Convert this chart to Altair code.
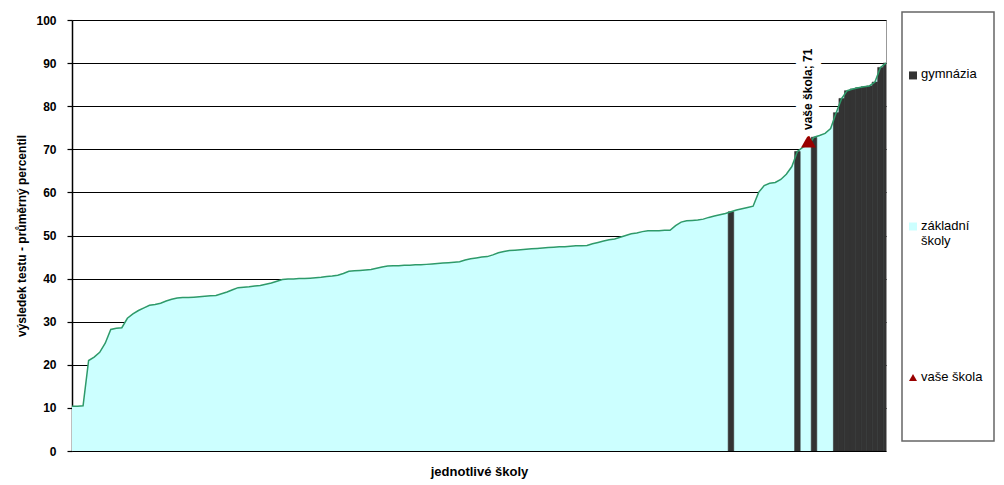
import altair as alt
import pandas as pd

# --- data ---
values = [
    10.4, 10.4, 10.5, 21.0, 21.8, 22.9, 25.0, 28.2, 28.5, 28.6,
    30.8, 31.8, 32.6, 33.2, 33.8, 34.0, 34.3, 34.8, 35.2, 35.5,
    35.6, 35.6, 35.7, 35.8, 35.9, 36.0, 36.1, 36.5, 36.9, 37.4,
    37.9, 38.0, 38.1, 38.3, 38.4, 38.7, 39.0, 39.4, 39.8, 39.9,
    39.9, 40.0, 40.0, 40.1, 40.2, 40.3, 40.5, 40.6, 40.8, 41.2,
    41.7, 41.8, 41.9, 42.0, 42.1, 42.4, 42.7, 42.9, 43.0, 43.0,
    43.1, 43.1, 43.2, 43.2, 43.3, 43.4, 43.5, 43.6, 43.7, 43.8,
    43.9, 44.3, 44.6, 44.8, 45.0, 45.1, 45.5, 46.0, 46.3, 46.5,
    46.6, 46.7, 46.8, 46.9, 47.0, 47.1, 47.2, 47.3, 47.4, 47.4,
    47.5, 47.6, 47.6, 47.7, 48.1, 48.4, 48.7, 49.0, 49.2, 49.6,
    50.0, 50.4, 50.6, 50.9, 51.1, 51.1, 51.1, 51.2, 51.2, 52.3,
    53.1, 53.4, 53.5, 53.6, 53.8, 54.2, 54.5, 54.8, 55.1, 55.5,
    55.9, 56.2, 56.5, 56.8, 60.0, 61.6, 62.1, 62.3, 63.0, 64.2,
    66.0, 69.5, 70.5, 71.0, 72.8, 73.2, 73.7, 74.8, 78.5, 81.8,
    83.6, 84.0, 84.3, 84.5, 84.7, 85.6, 89.0, 90.0,
]
gymnazia_idx = [119, 131, 134, 138, 139, 140, 141, 142, 143, 144, 145, 146, 147]
your_school_idx = 133

legend_labels = ["gymnázia", "základní\nškoly", "vaše škola"]
legend_colors = ["#333333", "#CCFFFF", "#990000"]
legend_shapes = ["square", "square", "triangle-up"]
legend_sizes = [64, 64, 110]

y_title = "výsledek testu - průměrný percentil"
x_title = "jednotlivé školy"
your_label = "vaše škola"

N = len(values)
df = pd.DataFrame({
    "i": list(range(N)),
    "v": values,
    "gym": [i in gymnazia_idx for i in range(N)],
    "you": [i == your_school_idx for i in range(N)],
})

FONT = "Liberation Sans"

x_axis = alt.Axis(labels=False, ticks=False, domain=False, grid=False,
                  title=x_title, titleFontSize=13, titleFontWeight="bold",
                  titleColor="black", titlePadding=14, titleFont=FONT)
x_scale = alt.Scale(domain=[0, N - 1], nice=False, zero=False)
y_scale = alt.Scale(domain=[0, 100], nice=False)
y_axis = alt.Axis(values=list(range(0, 101, 10)), grid=True, gridColor="black",
                  gridWidth=1, domainColor="black", domainWidth=1.5,
                  tickColor="black", tickSize=5, tickWidth=1.2,
                  labelFontSize=12, labelFontWeight="bold", labelColor="black",
                  labelPadding=11, labelFont=FONT,
                  title=y_title, titleFontSize=12, titleFontWeight="bold",
                  titleColor="black", titlePadding=7, titleFont=FONT)

X = alt.X("i:Q", scale=x_scale, axis=x_axis)
Y = alt.Y("v:Q", scale=y_scale, axis=y_axis)

base = alt.Chart(df)

area = base.mark_area(color="#CCFFFF", opacity=1).encode(x=X, y=Y)

bars = base.transform_filter("datum.gym").transform_calculate(
    x0="datum.i - 0.5", x1="datum.i + 0.5"
).mark_rect(color="#333333", stroke="#333333", strokeWidth=0.6, clip=True).encode(
    x=alt.X("x0:Q", scale=x_scale, axis=x_axis),
    x2="x1:Q",
    y=Y,
    y2=alt.datum(0),
)

line = base.mark_line(color="#2E9A6A", strokeWidth=1.5).encode(x=X, y=Y)

you = base.transform_filter("datum.you")

tri = you.mark_point(shape="triangle-up", filled=True, size=220,
                     color="#990000", opacity=1).encode(
    x=X, y=Y, yOffset=alt.value(-4))

lbl = you.transform_calculate(t=f"'{your_label}; ' + datum.v")

halo = lbl.mark_text(angle=270, align="left", baseline="middle", dx=15,
                     fontSize=12, fontWeight="bold", font=FONT,
                     fill="white", stroke="white", strokeWidth=14).encode(
    x=X, y=Y, text="t:N")
txt = lbl.mark_text(angle=270, align="left", baseline="middle", dx=15,
                    fontSize=12, fontWeight="bold", font=FONT,
                    color="black").encode(x=X, y=Y, text="t:N")

main = alt.layer(area, bars, line, tri, halo, txt).properties(
    width=814, height=431,
    view=alt.ViewBackground(stroke="#999999", strokeWidth=1),
)

# tiny invisible spacer that lowers the plot a little below the legend box top
spacer = alt.Chart(pd.DataFrame({"a": [0]})).mark_rule(strokeOpacity=0, strokeWidth=0).encode(
    x=alt.value(0), x2=alt.value(1), y=alt.value(0)
).properties(width=814, height=1, view=alt.ViewBackground(strokeWidth=0, strokeOpacity=0))

left = alt.vconcat(spacer, main, spacing=0)

# --- legend panel ---
leg_df = pd.DataFrame({"lab": legend_labels})
LY = alt.Y("lab:N", sort=legend_labels, axis=None,
           scale=alt.Scale(type="point", padding=0.42))
lg = alt.Chart(leg_df)
sym = lg.mark_point(filled=True, opacity=1).encode(
    x=alt.value(11), y=LY,
    color=alt.Color("lab:N", scale=alt.Scale(domain=legend_labels, range=legend_colors), legend=None),
    shape=alt.Shape("lab:N", scale=alt.Scale(domain=legend_labels, range=legend_shapes), legend=None),
    size=alt.Size("lab:N", scale=alt.Scale(domain=legend_labels, range=legend_sizes), legend=None),
)
ltxt = lg.mark_text(align="left", baseline="top", dy=-7, lineBreak="\n",
                    fontSize=13, font=FONT, color="black", lineHeight=15).encode(
    x=alt.value(19), y=LY, text="lab:N")

legend_panel = alt.layer(sym, ltxt).properties(
    width=92, height=429,
    view=alt.ViewBackground(stroke="#666666", strokeWidth=1.5),
)

chart = alt.hconcat(left, legend_panel, spacing=11).properties(
    padding={"left": 7, "top": 3, "right": 0, "bottom": 0}
).configure(font=FONT).configure_view(strokeWidth=1)

chart.save("out.html", embed_options={"renderer": "svg", "actions": False})
